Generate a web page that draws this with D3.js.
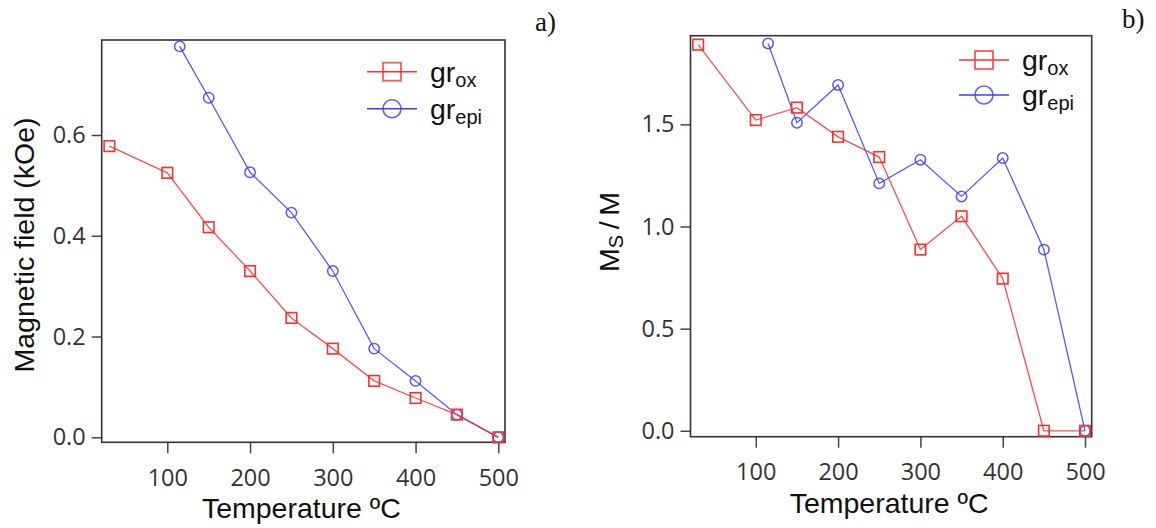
<!DOCTYPE html>
<html>
  <head>
    <script src="https://d3js.org/d3.v7.min.js"></script>
    <style>
        body { margin: 0; background-color: #fff; }
        .tick-label { font-family: 'Open Sans', sans-serif; font-size: 23.5px; fill: #333; }
        .title { font-family: 'Liberation Sans', Arial, sans-serif; font-size: 28.5px; fill: #111; }
        .panel { font-family: 'Liberation Serif', serif; font-size: 27px; fill: #111; }
    </style>
  </head>
  <body>
    <svg id="canvas" width="1156" height="528"></svg>
  </body>

  <script>
    // temperatures (ºC)
    const temps = [30, 100, 150, 200, 250, 300, 350, 400, 450, 500]
    const tempsEpi = [115, 150, 200, 250, 300, 350, 400, 450, 500]

    // a) magnetic field (kOe)
    const fieldOx = [0.578, 0.525, 0.417, 0.330, 0.237, 0.176, 0.112, 0.078, 0.045, 0]
    const fieldEpi = [0.776, 0.674, 0.526, 0.446, 0.330, 0.176, 0.112, 0.045, 0]

    // b) Ms / M
    const ratioOx = [1.890, 1.521, 1.582, 1.439, 1.340, 0.887, 1.050, 0.745, 0, 0]
    const ratioEpi = [1.896, 1.508, 1.693, 1.211, 1.327, 1.147, 1.335, 0.887, 0]

    const xTicks = [100, 200, 300, 400, 500]
    const yTicksA = [0, 0.2, 0.4, 0.6]
    const yTicksB = [0, 0.5, 1.0, 1.5]

    const red = '#ff2e2e'
    const blue = '#3b3bff'

    const svg = d3.select('#canvas')

    function drawPanel (opts) {
      const x = d3.scaleLinear().domain([20.7, 508.1]).range(opts.xRange)
      const y = d3.scaleLinear().domain(opts.yDomain).range(opts.yRange)
      const g = svg.append('g')

      // axes (outer ticks)
      const xAxis = g.append('g')
        .attr('transform', `translate(0, ${opts.yRange[0]})`)
        .call(d3.axisBottom(x).tickValues(xTicks).tickSize(11).tickPadding(16).tickFormat(d3.format('d')))
      const yAxis = g.append('g')
        .attr('transform', `translate(${opts.xRange[0]}, 0)`)
        .call(d3.axisLeft(y).tickValues(opts.yTicks).tickSize(10).tickPadding(6).tickFormat(d3.format('.1f')))
      ;[xAxis, yAxis].forEach(ax => {
        ax.select('.domain').remove()
        ax.selectAll('line').attr('stroke', '#444').attr('stroke-width', 1.5)
        ax.selectAll('text').attr('class', 'tick-label').attr('font-size', null).attr('font-family', null).attr('fill', null)
      })

      // frame
      g.append('rect')
        .attr('x', opts.xRange[0]).attr('y', opts.yRange[1])
        .attr('width', opts.xRange[1] - opts.xRange[0])
        .attr('height', opts.yRange[0] - opts.yRange[1])
        .attr('fill', 'none').attr('stroke', '#333').attr('stroke-width', 1.6)

      const line = d3.line().x(d => x(d[0])).y(d => y(d[1]))
      const epi = d3.zip(tempsEpi, opts.epi)
      const ox = d3.zip(temps, opts.ox)

      g.append('path').datum(epi).attr('d', line)
        .attr('fill', 'none').attr('stroke', blue).attr('stroke-width', 1.3).attr('opacity', 0.85)
      g.selectAll('circle.epi').data(epi).enter().append('circle')
        .attr('class', 'epi')
        .attr('cx', d => x(d[0])).attr('cy', d => y(d[1])).attr('r', 5.2)
        .attr('fill', 'none').attr('stroke', blue).attr('stroke-width', 1.5).attr('opacity', 0.85)

      g.append('path').datum(ox).attr('d', line)
        .attr('fill', 'none').attr('stroke', red).attr('stroke-width', 1.3).attr('opacity', 0.85)
      g.selectAll('rect.ox').data(ox).enter().append('rect')
        .attr('class', 'ox')
        .attr('x', d => x(d[0]) - 5.3).attr('y', d => y(d[1]) - 5.3)
        .attr('width', 10.6).attr('height', 10.6)
        .attr('fill', 'none').attr('stroke', red).attr('stroke-width', 1.6)

      // legend
      const lg = g.append('g').attr('transform', `translate(${opts.legend[0]}, ${opts.legend[1]})`)
      const items = [
        { color: red, sub: 'ox', shape: 'square', dy: 0 },
        { color: blue, sub: 'epi', shape: 'circle', dy: opts.legendGap }
      ]
      items.forEach(it => {
        lg.append('line').attr('x1', 0).attr('x2', 50).attr('y1', it.dy).attr('y2', it.dy)
          .attr('stroke', it.color).attr('stroke-width', 1.6)
        if (it.shape === 'square') {
          lg.append('rect').attr('x', 16).attr('y', it.dy - 9).attr('width', 18).attr('height', 18)
            .attr('fill', 'none').attr('stroke', it.color).attr('stroke-width', 1.8).attr('opacity', 0.8)
        } else {
          lg.append('circle').attr('cx', 25).attr('cy', it.dy).attr('r', 9)
            .attr('fill', 'none').attr('stroke', it.color).attr('stroke-width', 1.6).attr('opacity', 0.8)
        }
        const t = lg.append('text').attr('class', 'title').attr('font-size', 30).attr('x', 63).attr('y', it.dy + 10)
        t.append('tspan').text('gr')
        t.append('tspan').attr('font-size', 20).attr('dy', 5).text(it.sub)
      })

      // axis titles
      g.append('text').attr('class', 'title').attr('text-anchor', 'middle')
        .attr('x', (opts.xRange[0] + opts.xRange[1]) / 2 - 2).attr('y', opts.yRange[0] + 76)
        .text('Temperature ºC')
      const yt = g.append('text').attr('class', 'title').attr('text-anchor', 'middle')
        .attr('transform', `translate(${opts.yTitle[0]}, ${opts.yTitle[1]}) rotate(-90)`)
      opts.yLabel(yt)

      svg.append('text').attr('class', 'panel').attr('x', opts.tag[0]).attr('y', opts.tag[1]).text(opts.tagText)
    }

    drawPanel({
      xRange: [101.7, 505],
      yRange: [442.3, 40],
      yDomain: [-0.0099, 0.7886],
      yTicks: yTicksA,
      ox: fieldOx,
      epi: fieldEpi,
      legend: [367, 71.7],
      legendGap: 37,
      yTitle: [34, 245],
      yLabel: t => t.text('Magnetic field (kOe)'),
      tag: [535, 31],
      tagText: 'a)'
    })

    drawPanel({
      xRange: [690.5, 1091.7],
      yRange: [436.7, 35.7],
      yDomain: [-0.029, 1.934],
      yTicks: yTicksB,
      ox: ratioOx,
      epi: ratioEpi,
      legend: [959, 60],
      legendGap: 35,
      yTitle: [619, 232],
      yLabel: t => {
        t.append('tspan').text('M')
        t.append('tspan').attr('font-size', 20).attr('dy', 4).text('S')
        t.append('tspan').attr('dy', -4).text('\u2009/\u2009M')
      },
      tag: [1122, 28],
      tagText: 'b)'
    })
  </script>
</html>
